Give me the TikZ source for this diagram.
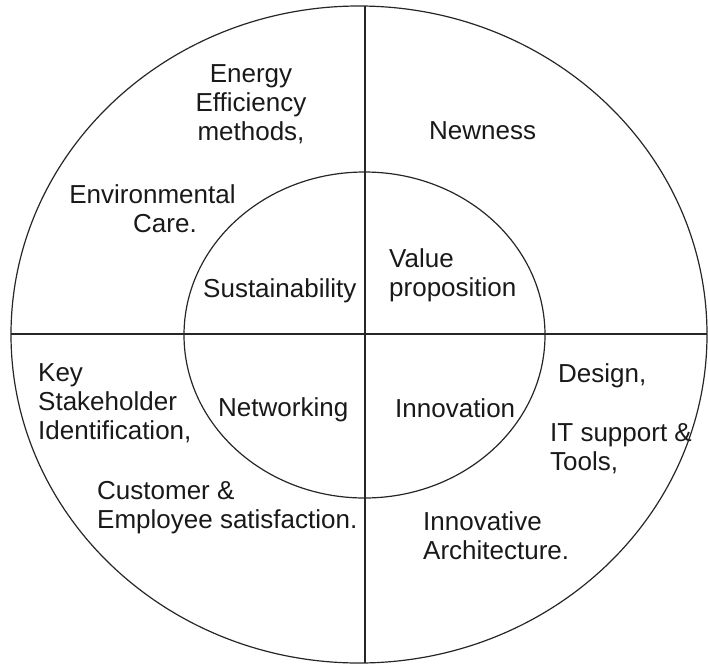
\documentclass[tikz,border=0pt]{standalone}
\usepackage{fontspec}
\setmainfont{Liberation Sans}
\usetikzlibrary{shapes.geometric}
\begin{document}
\begin{tikzpicture}[x=1pt,y=-1pt,
  rim/.style={draw=black!85, line width=1.2pt},
  label/.style={inner sep=0pt, text=black!90, font=\fontsize{26}{29}\selectfont},
  block/.style={label, anchor=north west, align=left},
  cblock/.style={label, anchor=north, align=center}]
  % canvas
  \useasboundingbox (0,0) rectangle (708,666);

  % outer and inner rings
  \node[rim, ellipse, minimum width=696pt, minimum height=657pt, inner sep=0pt] (outer) at (359,334.5) {};
  \node[rim, ellipse, minimum width=361pt, minimum height=326pt, inner sep=0pt] (inner) at (364.5,335) {};

  % quadrant dividers
  \coordinate (top) at (365,6);
  \coordinate (bottom) at (365,663);
  \coordinate (left) at (11,334);
  \coordinate (right) at (707,334);
  \draw[rim] (top) -- (bottom);
  \draw[rim] (left) -- (right);

  % inner ring labels
  \node[label, anchor=base west] (sustain) at (203,297) {Sustainability};
  \node[block] (value) at (389,248) {Value\\proposition};
  \node[label, anchor=base west] (networking) at (218,416) {Networking};
  \node[label, anchor=base west] (innovation) at (395,417) {Innovation};

  % outer ring labels
  \node[cblock] (energy) at (251,64) {Energy\\Efficiency\\methods,};
  \node[cblock] (environ) at (152.5,184) {Environmental\\\hspace*{25pt}Care.};
  \node[label, anchor=base west] (newness) at (429,139) {Newness};
  \node[block] (key) at (38,363) {Key\\Stakeholder\\Identification,};
  \node[block] (customer) at (97,481) {Customer \&\\Employee satisfaction.};
  \node[label, anchor=base west] (design) at (558,382) {Design,};
  \node[block] (itsupport) at (550,423) {IT support \&\\Tools,};
  \node[block] (architecture) at (423,511) {Innovative\\Architecture.};
\end{tikzpicture}
\end{document}
